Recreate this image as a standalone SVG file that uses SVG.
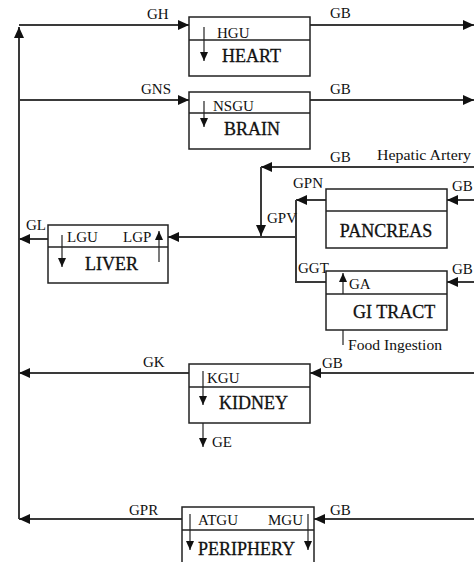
<svg xmlns="http://www.w3.org/2000/svg" width="474" height="562" viewBox="0 0 474 562" font-family="'Liberation Serif', 'DejaVu Serif', serif">
<style>
.bg{fill:#fff}
.box{fill:#fff;stroke:#222;stroke-width:1.5}
.div{stroke:#222;stroke-width:1.5}
.con{fill:none;stroke:#3a3a3a;stroke-width:2}
.ia{fill:none;stroke:#222;stroke-width:1.2}
text{font-family:'Liberation Serif','DejaVu Serif',serif;fill:#111}
.lb{font-size:15px}
.tt{font-size:18px;stroke:#111;stroke-width:0.3}
</style>
<defs>
<marker id="ah" markerUnits="userSpaceOnUse" markerWidth="11" markerHeight="10" refX="11" refY="5" orient="auto"><path d="M0,0 L11,5 L0,10 z" fill="#111"/></marker>
<marker id="sa" markerUnits="userSpaceOnUse" markerWidth="9" markerHeight="8" refX="9" refY="4" orient="auto"><path d="M0,0 L9,4 L0,8 z" fill="#111"/></marker>
</defs>
<rect class="bg" x="0" y="0" width="474" height="562"/>
<g id="connectors">
<polyline class="con" points="19,519 19,27" marker-end="url(#ah)"/>
<line class="con" x1="19" y1="25" x2="189" y2="25" marker-end="url(#ah)"/>
<line class="con" x1="19" y1="100" x2="189" y2="100" marker-end="url(#ah)"/>
<line class="con" x1="310" y1="25" x2="474" y2="25" marker-end="url(#ah)"/>
<line class="con" x1="310" y1="100" x2="474" y2="100" marker-end="url(#ah)"/>
<line class="con" x1="474" y1="167" x2="261" y2="167" marker-end="url(#ah)"/>
<line class="con" x1="261" y1="167" x2="261" y2="236" marker-end="url(#ah)"/>
<line class="con" x1="326" y1="200" x2="296" y2="200" marker-end="url(#ah)"/>
<polyline class="con" points="296,200 296,282 326,282"/>
<line class="con" x1="296" y1="237" x2="168" y2="237" marker-end="url(#ah)"/>
<line class="con" x1="474" y1="200" x2="447" y2="200" marker-end="url(#ah)"/>
<line class="con" x1="474" y1="282" x2="447" y2="282" marker-end="url(#ah)"/>
<line class="con" x1="48" y1="239" x2="19" y2="239" marker-end="url(#ah)"/>
<line class="con" x1="189" y1="373" x2="19" y2="373" marker-end="url(#ah)"/>
<line class="con" x1="474" y1="373" x2="310" y2="373" marker-end="url(#ah)"/>
<line class="con" x1="182" y1="519" x2="19" y2="519" marker-end="url(#ah)"/>
<line class="con" x1="474" y1="519" x2="314" y2="519" marker-end="url(#ah)"/>
<line class="ia" x1="343" y1="345" x2="343" y2="310" marker-end="url(#sa)"/>
<line class="ia" x1="203" y1="412" x2="203" y2="447" marker-end="url(#sa)"/>
<text class="lb" x="147" y="19">GH</text>
<text class="lb" x="330" y="18">GB</text>
<text class="lb" x="141" y="94">GNS</text>
<text class="lb" x="330" y="94">GB</text>
<text class="lb" x="330" y="162">GB</text>
<text class="lb" x="377" y="160" textLength="94" lengthAdjust="spacingAndGlyphs">Hepatic Artery</text>
<text class="lb" x="293" y="188">GPN</text>
<text class="lb" x="267" y="223">GPV</text>
<text class="lb" x="298" y="273">GGT</text>
<text class="lb" x="452" y="191">GB</text>
<text class="lb" x="452" y="274">GB</text>
<text class="lb" x="26" y="230">GL</text>
<text class="lb" x="143" y="367">GK</text>
<text class="lb" x="322" y="368">GB</text>
<text class="lb" x="348" y="350" textLength="94" lengthAdjust="spacingAndGlyphs">Food Ingestion</text>
<text class="lb" x="212" y="447">GE</text>
<text class="lb" x="129" y="515">GPR</text>
<text class="lb" x="330" y="515">GB</text>
</g>
<g id="heart">
<rect class="box" x="189" y="17" width="121" height="59"/>
<line class="div" x1="189" y1="40" x2="310" y2="40"/>
<text class="lb" x="217" y="38">HGU</text>
<text class="tt" x="222" y="62">HEART</text>
<line class="ia" x1="204" y1="27" x2="204" y2="61" marker-end="url(#sa)"/>
</g>
<g id="brain">
<rect class="box" x="189" y="92" width="121" height="57"/>
<line class="div" x1="189" y1="113" x2="310" y2="113"/>
<text class="lb" x="213" y="111">NSGU</text>
<text class="tt" x="224" y="135">BRAIN</text>
<line class="ia" x1="204" y1="101" x2="204" y2="127" marker-end="url(#sa)"/>
</g>
<g id="pancreas">
<rect class="box" x="326" y="189" width="121" height="59"/>
<line class="div" x1="326" y1="211" x2="447" y2="211"/>
<text class="tt" x="386" y="237" text-anchor="middle">PANCREAS</text>
</g>
<g id="gitract">
<rect class="box" x="326" y="271" width="121" height="59"/>
<line class="div" x1="326" y1="294" x2="447" y2="294"/>
<text class="lb" x="349" y="289">GA</text>
<text class="tt" x="353" y="318">GI TRACT</text>
<line class="ia" x1="343" y1="294" x2="343" y2="273" marker-end="url(#sa)"/>
</g>
<g id="liver">
<rect class="box" x="48" y="225" width="120" height="58"/>
<line class="div" x1="48" y1="247" x2="168" y2="247"/>
<text class="lb" x="67" y="242">LGU</text>
<text class="lb" x="123" y="242">LGP</text>
<text class="tt" x="85" y="270">LIVER</text>
<line class="ia" x1="62" y1="235" x2="62" y2="267" marker-end="url(#sa)"/>
<line class="ia" x1="159" y1="262" x2="159" y2="231" marker-end="url(#sa)"/>
</g>
<g id="kidney">
<rect class="box" x="189" y="364" width="121" height="59"/>
<line class="div" x1="189" y1="387" x2="310" y2="387"/>
<text class="lb" x="207" y="383">KGU</text>
<text class="tt" x="219" y="409">KIDNEY</text>
<line class="ia" x1="203" y1="371" x2="203" y2="405" marker-end="url(#sa)"/>
</g>
<g id="periphery">
<rect class="box" x="182" y="507" width="132" height="62"/>
<line class="div" x1="182" y1="530" x2="314" y2="530"/>
<text class="lb" x="198" y="525">ATGU</text>
<text class="lb" x="268" y="525">MGU</text>
<text class="tt" x="198" y="555">PERIPHERY</text>
<line class="ia" x1="190" y1="514" x2="190" y2="550" marker-end="url(#sa)"/>
<line class="ia" x1="308" y1="514" x2="308" y2="550" marker-end="url(#sa)"/>
</g>
</svg>
